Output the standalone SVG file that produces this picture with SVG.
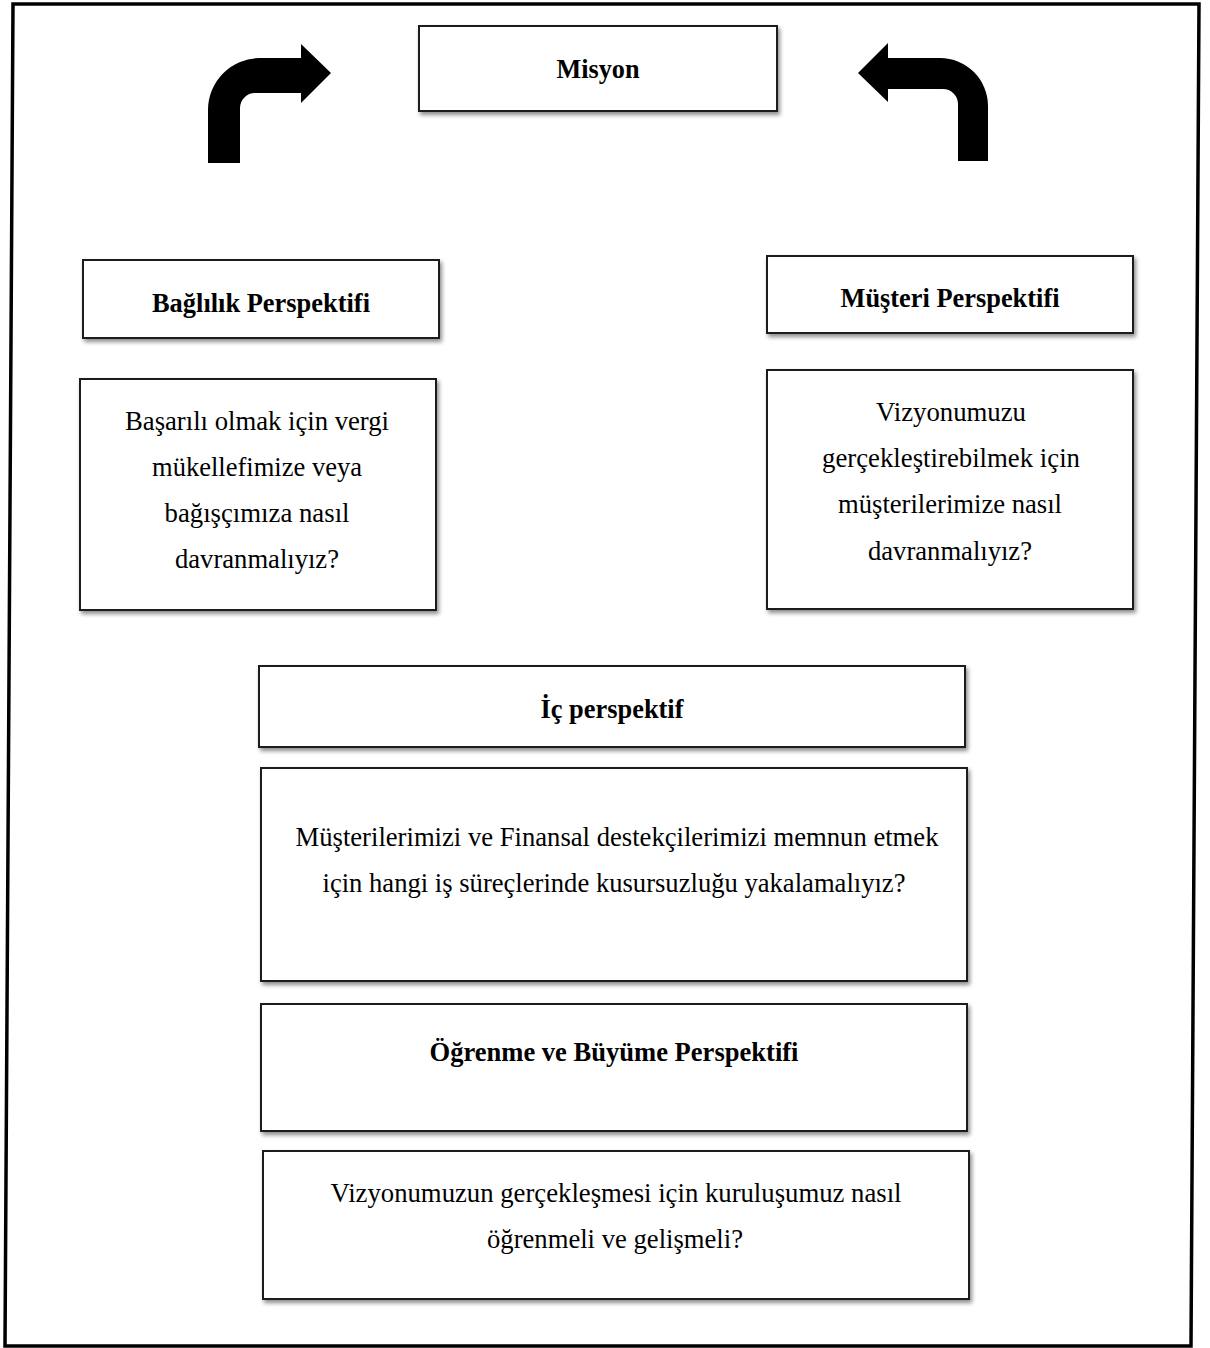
<svg xmlns="http://www.w3.org/2000/svg" width="1210" height="1348" viewBox="0 0 1210 1348">
  <defs>
    <filter id="shadow" x="-5%" y="-10%" width="115%" height="130%">
      <feDropShadow dx="2" dy="3" stdDeviation="2" flood-color="#000" flood-opacity="0.45"/>
    </filter>
  </defs>
  <style>
    .box { fill: #fff; stroke: #1a1a1a; stroke-width: 2; filter: url(#shadow); }
    .title { font-family: "Liberation Serif", "Times New Roman", serif; font-weight: bold; font-size: 27px; fill: #000; text-anchor: middle; }
    .body { font-family: "Liberation Serif", "Times New Roman", serif; font-size: 28px; fill: #000; text-anchor: middle; }
    .arrow { fill: #000; }
    .frame { fill: none; stroke: #000; stroke-width: 3.5; }
  </style>

  <rect width="1210" height="1348" fill="#fff"/>

  <!-- outer frame -->
  <polygon class="frame" points="13,4 1199,4 1191,1346 5,1346"/>

  <!-- curved arrows pointing at the mission box -->
  <g id="connectors">
    <path class="arrow" d="M 208,163 L 208,110 A 52,52 0 0 1 260,58 L 301,58 L 301,44 L 331,73 L 301,103 L 301,93 L 255,93 A 15,15 0 0 0 240,108 L 240,163 Z"/>
    <path class="arrow" d="M 858,73 L 888,43 L 888,58 L 940,58 A 48,48 0 0 1 988,106 L 988,161 L 958,161 L 958,104 A 15,15 0 0 0 943,89 L 888,89 L 888,102 Z"/>
  </g>

  <g id="misyon">
    <rect class="box" x="419" y="26" width="358" height="85"/>
    <text class="title" x="598" y="78" textLength="83" lengthAdjust="spacingAndGlyphs">Misyon</text>
  </g>

  <g id="baglilik-perspektifi">
    <rect class="box" x="83" y="260" width="356" height="78"/>
    <text class="title" x="261" y="312" textLength="218" lengthAdjust="spacingAndGlyphs">Bağlılık Perspektifi</text>
  </g>

  <g id="musteri-perspektifi">
    <rect class="box" x="767" y="256" width="366" height="77"/>
    <text class="title" x="950" y="307" textLength="219" lengthAdjust="spacingAndGlyphs">Müşteri Perspektifi</text>
  </g>

  <g id="baglilik-soru">
    <rect class="box" x="80" y="379" width="356" height="231"/>
    <text class="body" x="257" y="430" textLength="264" lengthAdjust="spacingAndGlyphs">Başarılı olmak için vergi</text>
    <text class="body" x="257" y="476" textLength="210" lengthAdjust="spacingAndGlyphs">mükellefimize veya</text>
    <text class="body" x="257" y="522" textLength="185" lengthAdjust="spacingAndGlyphs">bağışçımıza nasıl</text>
    <text class="body" x="257" y="568" textLength="164" lengthAdjust="spacingAndGlyphs">davranmalıyız?</text>
  </g>

  <g id="musteri-soru">
    <rect class="box" x="767" y="370" width="366" height="239"/>
    <text class="body" x="951" y="421" textLength="150" lengthAdjust="spacingAndGlyphs">Vizyonumuzu</text>
    <text class="body" x="951" y="467" textLength="258" lengthAdjust="spacingAndGlyphs">gerçekleştirebilmek için</text>
    <text class="body" x="950" y="513" textLength="224" lengthAdjust="spacingAndGlyphs">müşterilerimize nasıl</text>
    <text class="body" x="950" y="560" textLength="164" lengthAdjust="spacingAndGlyphs">davranmalıyız?</text>
  </g>

  <g id="ic-perspektif">
    <rect class="box" x="259" y="666" width="706" height="81"/>
    <text class="title" x="612" y="718" textLength="143" lengthAdjust="spacingAndGlyphs">İç perspektif</text>
  </g>

  <g id="ic-soru">
    <rect class="box" x="261" y="768" width="706" height="213"/>
    <text class="body" x="617" y="846" textLength="643" lengthAdjust="spacingAndGlyphs">Müşterilerimizi ve Finansal destekçilerimizi memnun etmek</text>
    <text class="body" x="614" y="892" textLength="583" lengthAdjust="spacingAndGlyphs">için hangi iş süreçlerinde kusursuzluğu yakalamalıyız?</text>
  </g>

  <g id="ogrenme-perspektifi">
    <rect class="box" x="261" y="1004" width="706" height="127"/>
    <text class="title" x="614" y="1061" textLength="369" lengthAdjust="spacingAndGlyphs">Öğrenme ve Büyüme Perspektifi</text>
  </g>

  <g id="ogrenme-soru">
    <rect class="box" x="263" y="1151" width="706" height="148"/>
    <text class="body" x="616" y="1202" textLength="571" lengthAdjust="spacingAndGlyphs">Vizyonumuzun gerçekleşmesi için kuruluşumuz nasıl</text>
    <text class="body" x="615" y="1248" textLength="256" lengthAdjust="spacingAndGlyphs">öğrenmeli ve gelişmeli?</text>
  </g>
</svg>
